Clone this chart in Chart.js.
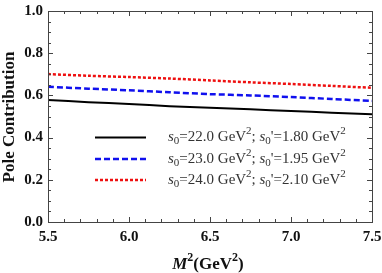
<!DOCTYPE html>
<html>
<head>
<meta charset="utf-8">
<script src="https://cdn.jsdelivr.net/npm/chart.js@4/dist/chart.umd.min.js"></script>
<style>
html,body{margin:0;padding:0;background:#fff;}
#wrap{width:382px;height:273px;position:relative;}
</style>
</head>
<body>
<div id="wrap"><canvas id="c" width="382" height="273"></canvas></div>
<script>
// ---- data ----
const massSq = [5.5, 5.75, 6.0, 6.25, 6.5, 6.75, 7.0, 7.25, 7.5];
const poleA = [0.578, 0.568, 0.559, 0.549, 0.541, 0.534, 0.526, 0.518, 0.511];
const poleB = [0.641, 0.632, 0.624, 0.615, 0.606, 0.600, 0.592, 0.583, 0.574];
const poleC = [0.701, 0.693, 0.687, 0.680, 0.671, 0.662, 0.654, 0.645, 0.636];
const s0Vals = ['22.0', '23.0', '24.0'];
const s0pVals = ['1.80', '1.95', '2.10'];
const yTicks = [0.0, 0.2, 0.4, 0.6, 0.8, 1.0];
const xTicks = [5.5, 6.0, 6.5, 7.0, 7.5];

const SERIF = '"Liberation Serif", "DejaVu Serif", serif';
const toPts = arr => arr.map((v, i) => ({x: massSq[i], y: v}));

const styles = [
  {color: '#000000', dash: [], width: 2},
  {color: '#1010ee', dash: [6, 3], width: 2.5},
  {color: '#ee1010', dash: [3, 2], width: 2.5}
];
const series = [poleA, poleB, poleC];

function richRun(ctx, parts, x, y, size) {
  let cx = x;
  for (const [t, s] of parts) {
    let f, dy = 0;
    if (s === 'n') f = `${size}px ${SERIF}`;
    else if (s === 'i') f = `italic ${size}px ${SERIF}`;
    else if (s === 'sub') { f = `${Math.round(size*0.7)}px ${SERIF}`; dy = size*0.25; }
    else if (s === 'sup') { f = `${Math.round(size*0.7)}px ${SERIF}`; dy = -size*0.4; }
    else if (s === 'b') f = `bold ${size}px ${SERIF}`;
    else if (s === 'bi') f = `italic bold ${size}px ${SERIF}`;
    else if (s === 'bsup') { f = `bold ${Math.round(size*0.7)}px ${SERIF}`; dy = -size*0.4; }
    ctx.font = f;
    ctx.fillText(t, cx, y + dy);
    cx += ctx.measureText(t).width;
  }
  return cx - x;
}
function richWidth(ctx, parts, size) {
  ctx.save(); ctx.globalAlpha = 0;
  const w = richRun(ctx, parts, 0, 0, size);
  ctx.restore();
  return w;
}

const decor = {
  id: 'decor',
  afterDatasetsDraw(chart) {
    const ctx = chart.ctx;
    const a = chart.chartArea;
    const xs = chart.scales.x, ys = chart.scales.y;
    ctx.save();
    // frame
    ctx.strokeStyle = '#444';
    ctx.lineWidth = 1;
    ctx.setLineDash([]);
    ctx.strokeRect(Math.round(a.left) + 0.5, Math.round(a.top) + 0.5,
                   Math.round(a.right - a.left), Math.round(a.bottom - a.top));
    // inward ticks
    ctx.beginPath();
    for (let i = 0; i <= 20; i++) {
      const v = 5.5 + i * 0.1;
      const px = Math.round(xs.getPixelForValue(v)) + 0.5;
      const len = (i % 5 === 0) ? 5 : 3;
      ctx.moveTo(px, a.bottom); ctx.lineTo(px, a.bottom - len);
      ctx.moveTo(px, a.top); ctx.lineTo(px, a.top + len);
    }
    for (let i = 0; i <= 20; i++) {
      const v = i * 0.05;
      const py = Math.round(ys.getPixelForValue(v)) + 0.5;
      const len = (i % 4 === 0) ? 5 : 3;
      ctx.moveTo(a.left, py); ctx.lineTo(a.left + len, py);
      ctx.moveTo(a.right, py); ctx.lineTo(a.right - len, py);
    }
    ctx.stroke();

    // legend
    const rowY = [137.5, 159, 180];
    ctx.textBaseline = 'middle';
    for (let k = 0; k < 3; k++) {
      const st = styles[k];
      ctx.strokeStyle = st.color;
      ctx.lineWidth = st.width;
      ctx.setLineDash(st.dash);
      ctx.beginPath();
      ctx.moveTo(95, rowY[k]); ctx.lineTo(146, rowY[k]);
      ctx.stroke();
      ctx.setLineDash([]);
      ctx.fillStyle = '#333';
      richRun(ctx, [
        ['s', 'i'], ['0', 'sub'], ['=' + s0Vals[k] + ' GeV', 'n'], ['2', 'sup'],
        ['; ', 'n'], ['s', 'i'], ['0', 'sub'], ["'=" + s0pVals[k] + ' GeV', 'n'], ['2', 'sup']
      ], 168, rowY[k], 15);
    }

    // x title
    ctx.fillStyle = '#111';
    const xt = [['M', 'bi'], ['2', 'bsup'], ['(GeV', 'b'], ['2', 'bsup'], [')', 'b']];
    const w = richWidth(ctx, xt, 17);
    richRun(ctx, xt, 208 - w / 2, 265, 17);

    // y title
    ctx.translate(10, 117);
    ctx.rotate(-Math.PI / 2);
    ctx.font = `bold 17px ${SERIF}`;
    ctx.textAlign = 'center';
    ctx.fillText('Pole Contribution', 0, 0);
    ctx.restore();
  }
};

new Chart(document.getElementById('c'), {
  type: 'line',
  data: {
    datasets: series.map((s, k) => ({
      data: toPts(s),
      borderColor: styles[k].color,
      borderWidth: styles[k].width,
      borderDash: styles[k].dash,
      pointRadius: 0,
      tension: 0.3,
      fill: false
    }))
  },
  options: {
    responsive: false,
    animation: false,
    devicePixelRatio: 1,
    layout: {padding: {left: 0, right: 10, top: 11, bottom: 0}},
    plugins: {legend: {display: false}, tooltip: {enabled: false}},
    scales: {
      x: {
        type: 'linear', min: 5.5, max: 7.5,
        afterBuildTicks: s => { s.ticks = xTicks.map(v => ({value: v})); },
        ticks: {
          callback: v => v.toFixed(1),
          font: {family: SERIF, size: 15, weight: 'bold'},
          color: '#111', padding: 6, maxRotation: 0, autoSkip: false
        },
        grid: {display: false, drawTicks: false},
        border: {display: false},
        afterFit: s => { s.height = 51; s.paddingLeft = 0; s.paddingRight = 0; }
      },
      y: {
        min: 0, max: 1,
        afterBuildTicks: s => { s.ticks = yTicks.map(v => ({value: v})); },
        ticks: {
          callback: v => v.toFixed(1),
          font: {family: SERIF, size: 15, weight: 'bold'},
          color: '#111', padding: 5, autoSkip: false
        },
        grid: {display: false, drawTicks: false},
        border: {display: false},
        afterFit: s => { s.width = 48; s.paddingTop = 0; s.paddingBottom = 0; }
      }
    }
  },
  plugins: [decor]
});
</script>
</body>
</html>
